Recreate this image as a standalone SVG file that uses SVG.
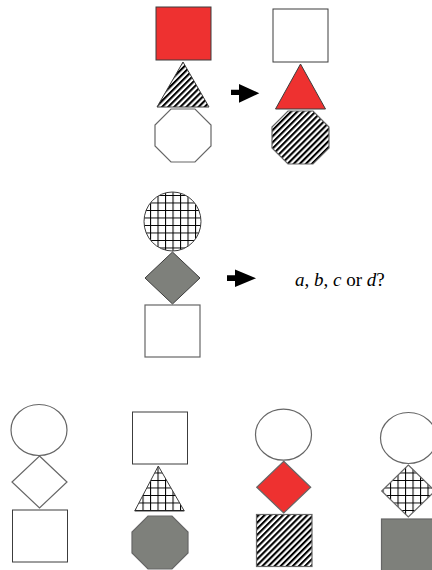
<svg xmlns="http://www.w3.org/2000/svg" width="432" height="570" viewBox="0 0 432 570">
<style>
.s{stroke:#3c3c3c;stroke-width:1}
.e{stroke:#666;stroke-width:1.2}
.w{fill:#fff}
.r{fill:#ee3130}
.g{fill:#7e807b}
.h{fill:url(#hatch)}
.x{fill:url(#grid)}
.arr{fill:#000}
.t{font-family:"Liberation Serif","Times New Roman",serif;font-size:19px;fill:#000}
</style>
<defs>
<pattern id="hatch" patternUnits="userSpaceOnUse" width="4.3" height="4.3" patternTransform="rotate(45)">
<rect width="4.3" height="4.3" fill="#fff"/>
<rect width="2.1" height="4.3" fill="#000"/>
</pattern>
<pattern id="grid" patternUnits="userSpaceOnUse" width="7.5" height="7.5">
<rect width="7.5" height="7.5" fill="#fff"/>
<path d="M0 0.5H7.5M0.5 0V7.5" stroke="#000" stroke-width="1.1"/>
</pattern>
</defs>
<rect width="432" height="570" fill="#fff"/>

<g id="row1-left">
<rect id="n-red-square" class="s r" x="156" y="7" width="55" height="53"/>
<polygon id="n-hatch-triangle" class="s h" points="183,62 157,107 209,107"/>
<polygon id="n-white-octagon" class="e w" points="171,109 195,109 211,125 211,146 195,162 171,162 155,146 155,125"/>
</g>
<g id="row1-right">
<rect id="n-white-square" class="s w" x="273" y="9" width="55" height="53"/>
<polygon id="n-red-triangle" class="s r" points="300.5,64 275.5,109 325.5,109"/>
<polygon id="n-hatch-octagon" class="e h" points="288,111 313,111 329,127 329,148 313,164 288,164 272,148 272,127"/>
</g>

<g id="row2-left">
<ellipse id="n-grid-ellipse" class="s x" cx="172.5" cy="221.5" rx="28.5" ry="29.5"/>
<polygon id="n-gray-diamond" class="s g" points="172.5,252 200,278 172.5,304 145,278"/>
<rect id="n-white-square2" class="e w" x="145" y="305" width="55" height="52"/>
</g>
<g id="question">
<text class="t" x="295" y="286"><tspan font-style="italic">a</tspan>, <tspan font-style="italic">b</tspan>, <tspan font-style="italic">c</tspan> or <tspan font-style="italic">d</tspan>?</text>
</g>

<g id="option-a">
<ellipse class="e w" cx="39" cy="430" rx="28" ry="25.5"/>
<polygon class="e w" points="39.5,456 67,482 39.5,508 12,482"/>
<rect class="s w" x="12.5" y="510" width="55" height="52"/>
</g>
<g id="option-b">
<rect class="s w" x="132.5" y="412" width="55" height="52"/>
<polygon class="s x" points="158.3,466 134.7,511 184.3,511"/>
<polygon class="e g" points="148,516 172,516 188,532 188,553 172,569 148,569 132,553 132,532"/>
</g>
<g id="option-c">
<ellipse class="e w" cx="283.5" cy="434.7" rx="28" ry="25.5"/>
<polygon class="e r" points="283.7,461.3 310.7,487.2 283.7,513 256.7,487.2"/>
<rect class="e h" x="256.5" y="514.5" width="55.5" height="52"/>
</g>
<g id="option-d">
<ellipse class="e w" cx="408.5" cy="438" rx="28" ry="25.5"/>
<polygon class="e x" points="408.3,465 435,491 408.3,517 381.7,491"/>
<rect class="e g" x="381.5" y="519" width="55" height="52"/>
</g>

<g id="connectors">
<polygon class="arr" points="231,89.7 239,89.7 239,84 259.3,93.3 239,102.7 239,95 231,95"/>
<polygon class="arr" points="227,275.3 235,275.3 235,269.5 256,278.3 235,287 235,281 227,281"/>
</g>
</svg>
